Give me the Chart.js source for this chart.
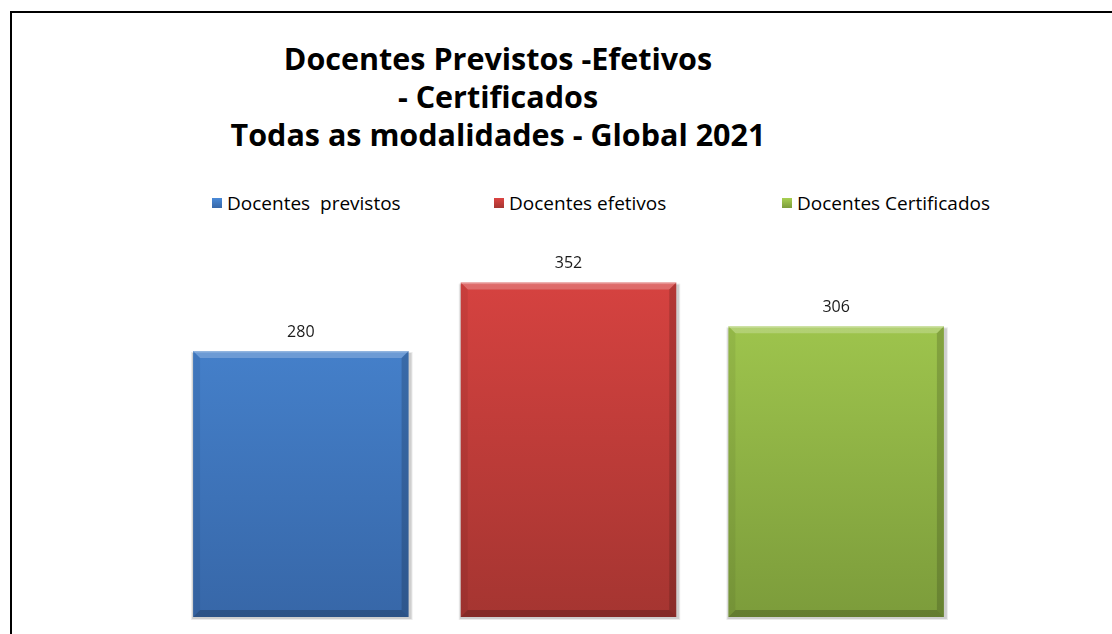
<!DOCTYPE html>
<html>
<head>
<meta charset="utf-8">
<script src="https://cdn.jsdelivr.net/npm/chart.js@4/dist/chart.umd.min.js"></script>
<style>
  html, body { margin: 0; padding: 0; background: #fff; }
  #wrap { position: relative; width: 1112px; height: 634px; overflow: hidden; font-family: "Open Sans", Lato, sans-serif; }
  #frame { position: absolute; left: 10px; top: 11px; width: 1200px; height: 700px; border-left: 2px solid #000; border-top: 2px solid #000; }
  #title { position: absolute; left: 0; width: 996px; top: 39px; text-align: center; font-weight: bold; font-size: 30.5px; line-height: 38px; color: #000; }
  #legend { position: absolute; left: 212px; top: 190px; display: flex; font-size: 19px; color: #000; }
  #legend .item { display: flex; align-items: center; white-space: pre; }
  #legend .box { width: 10px; height: 10px; margin-right: 5px; }
  canvas { position: absolute; left: 0; top: 0; }
</style>
</head>
<body>
<div id="wrap">
  <div id="frame"></div>
  <div id="title">Docentes Previstos -Efetivos<br>- Certificados<br>Todas as modalidades - Global 2021</div>
  <div id="legend"></div>
  <canvas id="chart" width="1112" height="634"></canvas>
</div>
<script>
// data
const seriesNames = ['Docentes  previstos', 'Docentes efetivos', 'Docentes Certificados'];
const seriesValues = [280, 352, 306];
const topColors = ['#4a8ad8', '#dc4442', '#a8d052'];
const bottomColors = ['#3767a8', '#a53531', '#7c9c3b'];
const legendWidths = [282, 288, 260];

// Legend (HTML)
const legendEl = document.getElementById('legend');
seriesNames.forEach((name, i) => {
    const item = document.createElement('div');
    item.className = 'item';
    item.style.width = legendWidths[i] + 'px';
    item.innerHTML = `<span class="box" style="background:linear-gradient(${topColors[i]}, ${bottomColors[i]});"></span><span>${name}</span>`;
    legendEl.appendChild(item);
});

function vGradient(ctx, chartArea, i) {
    const g = ctx.createLinearGradient(0, chartArea.top, 0, chartArea.bottom);
    g.addColorStop(0, topColors[i]);
    g.addColorStop(1, bottomColors[i]);
    return g;
}

// bevel edges + shadow drawn on top of each bar
const bevelPlugin = {
    id: 'bevel',
    beforeDatasetsDraw(chart) {
        const ctx = chart.ctx;
        chart.data.datasets.forEach((ds, i) => {
            chart.getDatasetMeta(i).data.forEach(bar => {
                const l = bar.x - bar.width / 2;
                ctx.save();
                ctx.fillStyle = 'rgba(0,0,0,0.12)';
                ctx.fillRect(l - 1, bar.y + 2, bar.width + 4, bar.base - bar.y);
                ctx.fillStyle = 'rgba(0,0,0,0.08)';
                ctx.fillRect(l - 2, bar.y + 1, bar.width + 6, bar.base - bar.y + 2);
                ctx.restore();
            });
        });
    },
    afterDatasetsDraw(chart) {
        const ctx = chart.ctx;
        const b = 7;
        chart.data.datasets.forEach((ds, i) => {
            chart.getDatasetMeta(i).data.forEach(bar => {
                const l = bar.x - bar.width / 2, r = bar.x + bar.width / 2;
                const t = bar.y, btm = bar.base;
                ctx.save();
                // top highlight
                ctx.fillStyle = 'rgba(255,255,255,0.22)';
                ctx.beginPath();
                ctx.moveTo(l, t); ctx.lineTo(r, t); ctx.lineTo(r - b, t + b); ctx.lineTo(l + b, t + b); ctx.closePath();
                ctx.fill();
                ctx.fillStyle = 'rgba(255,255,255,0.25)';
                ctx.fillRect(l, t, bar.width, 1.5);
                // left side
                ctx.fillStyle = 'rgba(0,0,0,0.06)';
                ctx.beginPath();
                ctx.moveTo(l, t); ctx.lineTo(l + b, t + b); ctx.lineTo(l + b, btm - b); ctx.lineTo(l, btm); ctx.closePath();
                ctx.fill();
                // right side
                ctx.fillStyle = 'rgba(0,0,0,0.16)';
                ctx.beginPath();
                ctx.moveTo(r, t); ctx.lineTo(r - b, t + b); ctx.lineTo(r - b, btm - b); ctx.lineTo(r, btm); ctx.closePath();
                ctx.fill();
                // bottom
                ctx.fillStyle = 'rgba(0,0,0,0.2)';
                ctx.beginPath();
                ctx.moveTo(l, btm); ctx.lineTo(l + b, btm - b); ctx.lineTo(r - b, btm - b); ctx.lineTo(r, btm); ctx.closePath();
                ctx.fill();
                ctx.restore();
            });
        });
    }
};

// value labels above the bars
const valueLabels = {
    id: 'valueLabels',
    afterDatasetsDraw(chart) {
        const ctx = chart.ctx;
        ctx.save();
        ctx.font = '16px "Open Sans", Lato, sans-serif';
        ctx.fillStyle = '#1a1a1a';
        ctx.textAlign = 'center';
        ctx.textBaseline = 'middle';
        chart.data.datasets.forEach((ds, i) => {
            chart.getDatasetMeta(i).data.forEach((bar, j) => {
                ctx.fillText(ds.data[j], bar.x, bar.y - 19);
            });
        });
        ctx.restore();
    }
};

new Chart(document.getElementById('chart'), {
    type: 'bar',
    data: {
        labels: [''],
        datasets: seriesNames.map((name, i) => ({
            label: name,
            data: [seriesValues[i]],
            backgroundColor: c => c.chart.chartArea ? vGradient(c.chart.ctx, c.chart.chartArea, i) : topColors[i],
            borderWidth: 0,
            categoryPercentage: 1,
            barPercentage: 0.805
        }))
    },
    options: {
        responsive: false,
        animation: false,
        layout: { padding: { left: 167, right: 142, top: 237, bottom: 17 } },
        scales: {
            x: { display: false },
            y: { display: false, min: 0, max: 400 }
        },
        plugins: { legend: { display: false }, tooltip: { enabled: false } }
    },
    plugins: [bevelPlugin, valueLabels]
});
</script>
</body>
</html>
